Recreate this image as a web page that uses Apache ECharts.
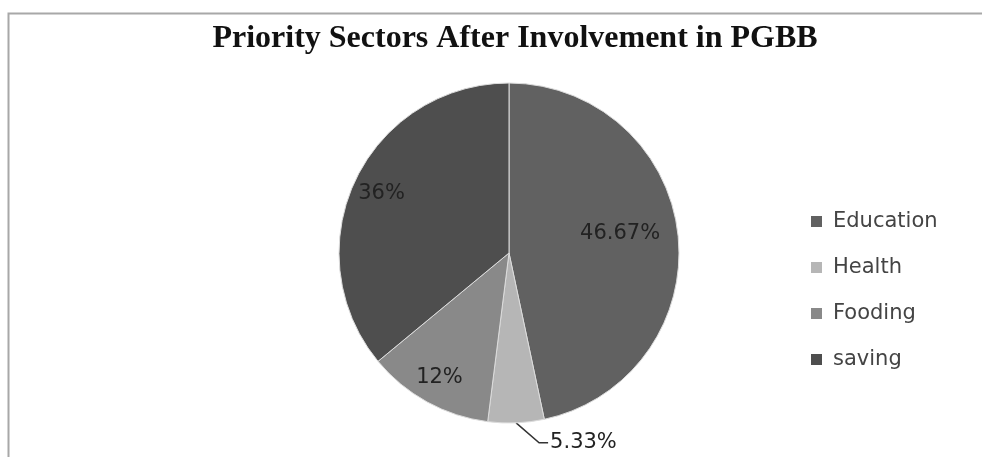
<!DOCTYPE html>
<html>
<head>
<meta charset="utf-8">
<script src="https://cdn.jsdelivr.net/npm/echarts@6/dist/echarts.min.js"></script>
<style>
html,body{margin:0;padding:0;background:#fff;}
#chart{width:982px;height:457px;}
</style>
</head>
<body>
<div id="chart"></div>
<script>
const titleText = 'Priority Sectors After Involvement in PGBB';
const categories = ['Education', 'Health', 'Fooding', 'saving'];
const values = [46.67, 5.33, 12, 36];
const labels = ['46.67%', '5.33%', '12%', '36%'];
const colors = ['#616161', '#b6b6b6', '#898989', '#4e4e4e'];

const chart = echarts.init(document.getElementById('chart'), null, {renderer: 'canvas'});
const CX = 509, CY = 253, R = 170;
const pushOut = [[1.27, -8], [1, 0], [1.64, -2], [1.6, 0]];

chart.setOption({
  backgroundColor: '#ffffff',
  animation: false,
  title: {
    text: titleText,
    left: 510, top: 18, textAlign: 'center',
    textStyle: {fontFamily: 'Liberation Serif', fontWeight: 'bold', fontSize: 32, color: '#111'}
  },
  legend: {
    orient: 'vertical',
    left: 806, top: 206,
    itemWidth: 11, itemHeight: 11, itemGap: 25,
    icon: 'rect',
    data: categories,
    itemStyle: {borderWidth: 0},
    textStyle: {fontFamily: 'DejaVu Sans', fontSize: 21, color: '#444', padding: [0, 0, 0, 6]}
  },
  graphic: [{
    type: 'polyline',
    shape: {points: [[8.5, 457], [8.5, 13.5], [982, 13.5]]},
    style: {stroke: '#a8a8a8', lineWidth: 2, fill: null}
  }],
  series: [{
    type: 'pie',
    center: [CX, CY],
    radius: [0, R],
    startAngle: 90,
    clockwise: true,
    data: categories.map((c, i) => ({
      name: c, value: values[i],
      itemStyle: {color: colors[i]},
      label: i === 1 ? {position: 'outside'} : {position: 'inside'},
      labelLine: {show: i === 1}
    })),
    itemStyle: {borderColor: '#dcdcdc', borderWidth: 1},
    label: {
      formatter: p => labels[p.dataIndex],
      fontFamily: 'DejaVu Sans', fontSize: 21, color: '#222'
    },
    labelLine: {length: 16, length2: 10, lineStyle: {color: '#333', width: 1.5}},
    labelLayout: function (p) {
      const r = p.labelRect;
      if (p.dataIndex === 1) {
        const pts = p.labelLinePoints;
        if (!pts) return {};
        const s = pts[0];
        const m = [s[0] + 23, s[1] + 20];
        const e = [m[0] + 9, m[1]];
        return {
          dx: e[0] + 2 - r.x,
          dy: m[1] - (r.y + r.height / 2),
          labelLinePoints: [s, m, e]
        };
      }
      const k = pushOut[p.dataIndex][0];
      const lx = r.x + r.width / 2;
      const ly = r.y + r.height / 2;
      return {dx: (lx - CX) * (k - 1), dy: (ly - CY) * (k - 1) + pushOut[p.dataIndex][1]};
    }
  }]
});
</script>
</body>
</html>
